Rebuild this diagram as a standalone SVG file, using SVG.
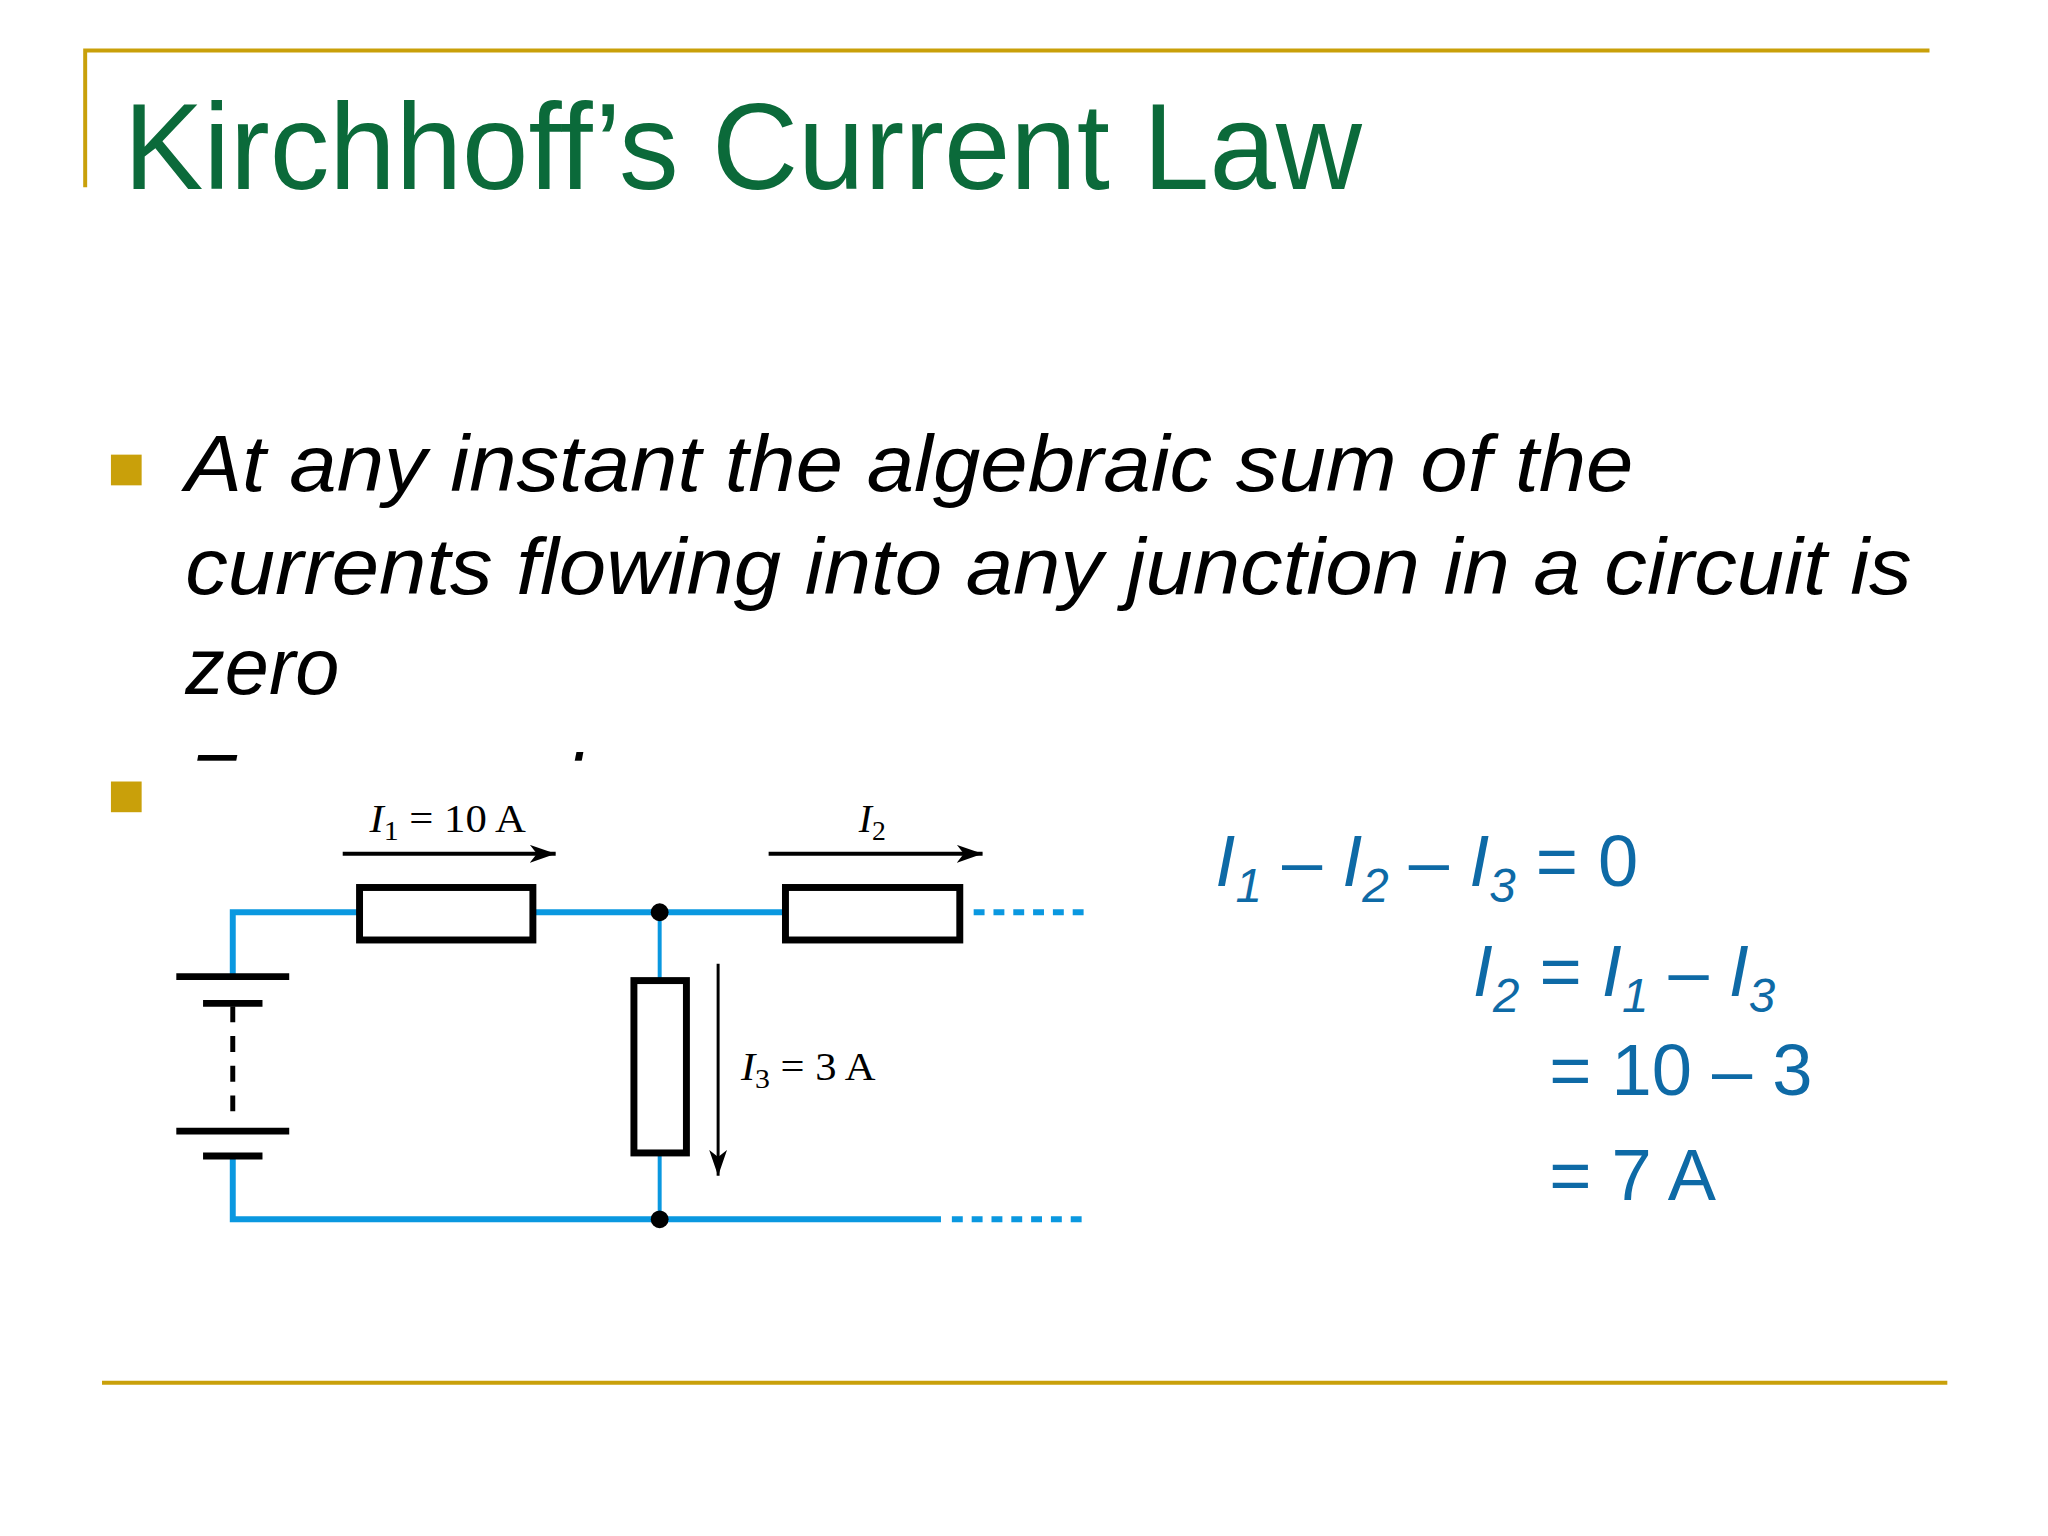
<svg xmlns="http://www.w3.org/2000/svg" width="2048" height="1536" viewBox="0 0 2048 1536">
<style>
.gold{stroke:#c9a00a;stroke-width:4;fill:none}
.wire{stroke:#0a98e0;stroke-width:6;fill:none}
.wt{stroke:#0a98e0;stroke-width:4;fill:none}
.dash{stroke:#0a98e0;stroke-width:6;stroke-dasharray:11,9;fill:none}
.res{fill:#fff;stroke:#000;stroke-width:7}
.blk{stroke:#000;fill:none}
.bt{font-family:"Liberation Sans",Arial,sans-serif;font-style:italic;font-size:80px;fill:#000}
.lab{font-family:"Liberation Serif","Times New Roman",serif;font-size:40px;fill:#000}
.eq{font-family:"Liberation Sans",Arial,sans-serif;font-size:73px;fill:#0e6aa6}
</style>
<defs><marker id="ah" viewBox="0 0 26 18" refX="26" refY="9" markerWidth="26" markerHeight="18" markerUnits="userSpaceOnUse" orient="auto"><path d="M0,0 L26,9 L0,18 L7,9 Z" fill="#000"/></marker></defs>
<rect width="2048" height="1536" fill="#fff"/>
<g transform="scale(0.9905)">
<g id="frame">
<path class="gold" d="M86,189 V51 H1948"/>
<line class="gold" x1="103" y1="1396" x2="1966" y2="1396"/>
</g>
<text id="title" x="125" y="191" font-family="'Liberation Sans',Arial,sans-serif" font-size="124" fill="#0b6a3a" textLength="1250" lengthAdjust="spacingAndGlyphs">Kirchhoff’s Current Law</text>
<g id="bullets">
<rect x="112" y="459" width="31" height="31" fill="#c9a00a"/>
<text class="bt" x="187" y="496" textLength="1462" lengthAdjust="spacingAndGlyphs">At any instant the algebraic sum of the</text>
<text class="bt" x="187" y="600" textLength="1743" lengthAdjust="spacingAndGlyphs">currents flowing into any junction in a circuit is</text>
<text class="bt" x="187" y="701">zero</text>
<rect x="112" y="789" width="31" height="31" fill="#c9a00a"/>
<text class="bt" x="187" y="818">For example</text>
<rect x="165" y="768" width="1200" height="100" fill="#fff"/>
</g>
<g id="connectors">
<path class="wire" d="M363,921 H235 V986"/>
<line class="wire" x1="538" y1="921" x2="793" y2="921"/>
<line class="dash" x1="983" y1="921" x2="1095" y2="921"/>
<path class="wire" d="M235,1167 V1231 H950"/>
<line class="dash" x1="961" y1="1231" x2="1095" y2="1231"/>
<line class="wt" x1="666" y1="921" x2="666" y2="990"/>
<line class="wt" x1="666" y1="1164" x2="666" y2="1231"/>
<circle cx="666" cy="921" r="9" fill="#000"/>
<circle cx="666" cy="1231" r="9" fill="#000"/>
<line class="blk" stroke-width="4" x1="346" y1="862" x2="561" y2="862" marker-end="url(#ah)"/>
<line class="blk" stroke-width="4" x1="776" y1="862" x2="992" y2="862" marker-end="url(#ah)"/>
<line class="blk" stroke-width="3" x1="725" y1="973" x2="725" y2="1187" marker-end="url(#ah)"/>
</g>
<g id="battery">
<line class="blk" stroke-width="7" x1="178" y1="986" x2="292" y2="986"/>
<line class="blk" stroke-width="7" x1="205" y1="1013" x2="265" y2="1013"/>
<line class="blk" stroke-width="5" stroke-dasharray="16,14" x1="235" y1="1016" x2="235" y2="1130"/>
<line class="blk" stroke-width="7" x1="178" y1="1142" x2="292" y2="1142"/>
<line class="blk" stroke-width="7" x1="205" y1="1167" x2="265" y2="1167"/>
</g>
<g id="R1"><rect class="res" x="363" y="896" width="175" height="53"/></g>
<g id="R2"><rect class="res" x="793" y="896" width="176" height="53"/></g>
<g id="R3"><rect class="res" x="640" y="990" width="53" height="174"/></g>
<g id="labels">
<text class="lab" x="373" y="840" textLength="158" lengthAdjust="spacingAndGlyphs"><tspan font-style="italic">I</tspan><tspan font-size="28" dy="8">1</tspan><tspan dy="-8"> = 10 A</tspan></text>
<text class="lab" x="867" y="840"><tspan font-style="italic">I</tspan><tspan font-size="28" dy="8">2</tspan></text>
<text class="lab" x="748" y="1090" textLength="136" lengthAdjust="spacingAndGlyphs"><tspan font-style="italic">I</tspan><tspan font-size="28" dy="8">3</tspan><tspan dy="-8"> = 3 A</tspan></text>
</g>
<g id="equations">
<text class="eq" x="1227" y="895"><tspan font-style="italic">I</tspan><tspan font-style="italic" font-size="48" dy="16">1</tspan><tspan dy="-16"> – </tspan><tspan font-style="italic">I</tspan><tspan font-style="italic" font-size="48" dy="16">2</tspan><tspan dy="-16"> – </tspan><tspan font-style="italic">I</tspan><tspan font-style="italic" font-size="48" dy="16">3</tspan><tspan dy="-16"> = 0</tspan></text>
<text class="eq" x="1487" y="1006"><tspan font-style="italic">I</tspan><tspan font-style="italic" font-size="48" dy="16">2</tspan><tspan dy="-16"> = </tspan><tspan font-style="italic">I</tspan><tspan font-style="italic" font-size="48" dy="16">1</tspan><tspan dy="-16"> – </tspan><tspan font-style="italic">I</tspan><tspan font-style="italic" font-size="48" dy="16">3</tspan></text>
<text class="eq" x="1564" y="1106">= 10 – 3</text>
<text class="eq" x="1564" y="1212">= 7 A</text>
</g>
</g>
</svg>
